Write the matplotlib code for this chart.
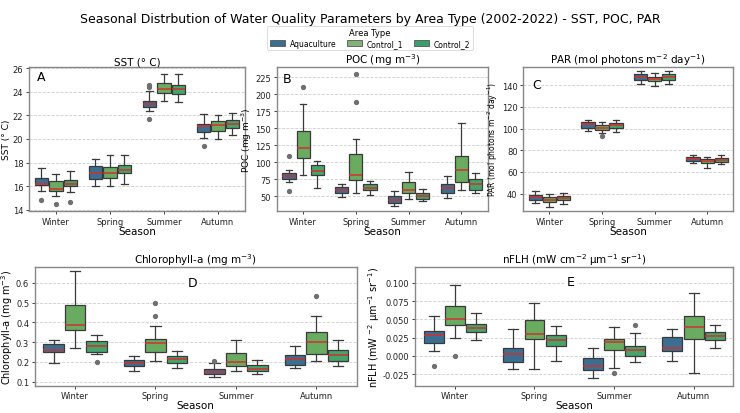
import matplotlib
matplotlib.use("Agg")
import matplotlib.pyplot as plt
from matplotlib.patches import Patch

seasons = ["Winter", "Spring", "Summer", "Autumn"]
areas = ["Aquaculture", "Control_1", "Control_2"]
colors = ["#3b6f92", "#6aab62", "#47a36c"]
legend_colors = ["#3b6d8f", "#82b27a", "#3c9e6a"]

# box stats per season, per area: (whislo, q1, med, q3, whishi, fliers)
sst = [
    [(15.6, 16.1, 16.2, 16.7, 17.5, [14.8]), (15.2, 15.6, 15.8, 16.4, 17.0, [14.5]), (15.5, 16.0, 16.2, 16.5, 17.3, [14.7])],
    [(16.0, 16.6, 17.1, 17.7, 18.3, []), (16.0, 16.7, 17.1, 17.6, 18.6, []), (16.2, 17.1, 17.4, 17.8, 18.6, [])],
    [(22.4, 22.7, 23.0, 23.2, 24.1, [24.4, 24.6, 21.7]), (23.2, 23.9, 24.2, 24.7, 25.5, []), (23.1, 23.8, 24.2, 24.6, 25.5, [])],
    [(20.1, 20.6, 21.1, 21.3, 22.1, [19.4]), (20.0, 20.7, 21.2, 21.5, 22.0, []), (20.3, 20.9, 21.3, 21.6, 22.2, [])],
]
poc = [
    [(70, 75, 79, 84, 88, [109, 57]), (81, 106, 121, 145, 186, [211]), (62, 81, 87, 95, 102, [])],
    [(48, 55, 59, 63, 68, []), (55, 73, 81, 112, 134, [229, 188]), (52, 59, 62, 67, 72, [])],
    [(36, 39, 44, 50, 57, []), (45, 54, 59, 70, 85, []), (42, 46, 50, 54, 60, [])],
    [(47, 54, 62, 67, 79, []), (59, 70, 89, 109, 157, []), (54, 59, 67, 75, 84, [])],
]
par = [
    [(31, 34, 37, 39, 42, []), (28, 32, 34, 37, 40, []), (30, 34, 36, 38, 41, [])],
    [(98, 101, 104, 106, 108, []), (96, 99, 101, 103, 106, [93]), (97, 101, 103, 105, 108, [])],
    [(141, 145, 148, 150, 153, []), (139, 144, 146, 148, 151, []), (141, 145, 148, 150, 153, [])],
    [(68, 70, 72, 74, 76, []), (64, 68, 70, 72, 74, []), (67, 69, 71, 73, 76, [])],
]
chl = [
    [(0.195, 0.25, 0.262, 0.29, 0.313, []), (0.272, 0.363, 0.388, 0.488, 0.66, []), (0.238, 0.25, 0.28, 0.305, 0.338, [0.2])],
    [(0.155, 0.177, 0.193, 0.21, 0.23, []), (0.203, 0.25, 0.296, 0.317, 0.38, [0.5, 0.433]), (0.17, 0.193, 0.217, 0.23, 0.253, [])],
    [(0.122, 0.137, 0.15, 0.163, 0.197, [0.203]), (0.152, 0.177, 0.2, 0.247, 0.31, []), (0.14, 0.153, 0.163, 0.183, 0.208, [])],
    [(0.167, 0.185, 0.215, 0.235, 0.28, []), (0.203, 0.242, 0.303, 0.353, 0.43, [0.533]), (0.18, 0.205, 0.233, 0.26, 0.31, [])],
]
nflh = [
    [(0.006, 0.0174, 0.028, 0.034, 0.0545, [-0.0138]), (0.024, 0.042, 0.050, 0.068, 0.0977, [0.0]), (0.0216, 0.032, 0.038, 0.043, 0.059, [])],
    [(-0.018, -0.0087, 0.0028, 0.0106, 0.037, []), (-0.018, 0.0225, 0.030, 0.0486, 0.073, []), (-0.007, 0.0133, 0.021, 0.028, 0.041, [])],
    [(-0.031, -0.020, -0.014, -0.003, 0.010, []), (-0.017, 0.0073, 0.019, 0.023, 0.039, [-0.023]), (-0.0083, 0.0, 0.0083, 0.0138, 0.0317, [0.0427])],
    [(-0.0078, 0.006, 0.010, 0.0257, 0.037, []), (-0.023, 0.0225, 0.039, 0.0546, 0.0858, []), (0.0106, 0.022, 0.027, 0.032, 0.042, [])],
]

fig = plt.figure(figsize=(7.4, 4.14), dpi=100)
fig.text(0.5, 0.953, "Seasonal Distrbution of Water Quality Parameters by Area Type (2002-2022) - SST, POC, PAR",
         ha="center", va="center", fontsize=9)

handles = [Patch(facecolor=c, edgecolor="#555555", linewidth=0.6, label=a) for a, c in zip(areas, legend_colors)]
leg = fig.legend(handles=handles, loc="upper center", bbox_to_anchor=(0.5, 0.935), ncol=3,
                 title="Area Type", fontsize=5.5, title_fontsize=6, frameon=True,
                 handlelength=2.0, handleheight=0.7, columnspacing=1.4, borderpad=0.3,
                 labelspacing=0.2, handletextpad=0.6, borderaxespad=0)
leg.get_frame().set_edgecolor("#cccccc")
leg.get_frame().set_linewidth(0.6)

w = 0.25
off = 0.267


def draw(ax, data, title, ylabel, letter, lpos, ylim, yticks, ylabsize=6.5, lbox=False):
    for si in range(len(seasons)):
        for ai in range(len(areas)):
            lo, q1, med, q3, hi, fl = data[si][ai]
            st = [dict(whislo=lo, q1=q1, med=med, q3=q3, whishi=hi, fliers=fl)]
            ax.bxp(st, positions=[si + (ai - 1) * off], widths=w, capwidths=w * 0.5,
                   patch_artist=True, manage_ticks=False,
                   boxprops=dict(facecolor=colors[ai], edgecolor="#3a3a3a", linewidth=0.9),
                   medianprops=dict(color="#d0312d", linewidth=1.1),
                   whiskerprops=dict(color="#3a3a3a", linewidth=0.9),
                   capprops=dict(color="#3a3a3a", linewidth=0.9),
                   flierprops=dict(marker="o", markersize=2.8, markerfacecolor="#707070",
                                   markeredgecolor="#707070"))
    ax.set_xlim(-0.5, 3.5)
    ax.set_ylim(*ylim)
    ax.set_yticks(yticks)
    ax.set_xticks(range(len(seasons)))
    ax.set_xticklabels(seasons)
    ax.tick_params(labelsize=6, length=2.5, width=0.6, pad=1.5, colors="#222222")
    ax.yaxis.grid(True, linestyle="--", color="#cfcfcf", linewidth=0.6)
    ax.set_axisbelow(True)
    for s in ax.spines.values():
        s.set_color("#888888")
        s.set_linewidth(1.0)
    ax.set_title(title, fontsize=7.5, pad=1.5)
    ax.set_xlabel("Season", fontsize=7.5, labelpad=0)
    ax.set_ylabel(ylabel, fontsize=ylabsize, labelpad=1)
    bbox = dict(facecolor="white", edgecolor="none", pad=1.5) if lbox else None
    ax.text(lpos[0], lpos[1], letter, transform=ax.transAxes, fontsize=9,
            ha="center", va="center", bbox=bbox)


axA = fig.add_axes([0.039, 0.488, 0.292, 0.348])
axB = fig.add_axes([0.374, 0.488, 0.285, 0.348])
axC = fig.add_axes([0.707, 0.488, 0.284, 0.348])
axD = fig.add_axes([0.047, 0.066, 0.435, 0.287])
axE = fig.add_axes([0.561, 0.066, 0.430, 0.287])

draw(axA, sst, "SST (° C)", "SST (° C)", "A", (0.055, 0.93), (13.9, 26.1), range(14, 27, 2))
draw(axB, poc, "POC (mg m$^{-3}$)", "POC (mg m$^{-3}$)", "B", (0.05, 0.92), (28, 240), range(50, 226, 25))
draw(axC, par, "PAR (mol photons m$^{-2}$ day$^{-1}$)", "PAR (mol photons m$^{-2}$ day$^{-1}$)", "C",
     (0.065, 0.88), (24, 157), range(40, 141, 20), ylabsize=5.5)
draw(axD, chl, "Chlorophyll-a (mg m$^{-3}$)", "Chlorophyll-a (mg m$^{-3}$)", "D",
     (0.49, 0.87), (0.08, 0.68), [0.1, 0.2, 0.3, 0.4, 0.5, 0.6], ylabsize=7, lbox=True)
draw(axE, nflh, "nFLH (mW cm$^{-2}$ μm$^{-1}$ sr$^{-1}$)", "nFLH (mW $^{-2}$ μm$^{-1}$ sr$^{-1}$)", "E",
     (0.49, 0.88), (-0.041, 0.122), [-0.025, 0.0, 0.025, 0.05, 0.075, 0.1], ylabsize=7, lbox=True)
axE.yaxis.set_major_formatter(matplotlib.ticker.FormatStrFormatter("%.3f"))

fig.savefig("out.png", dpi=100)
